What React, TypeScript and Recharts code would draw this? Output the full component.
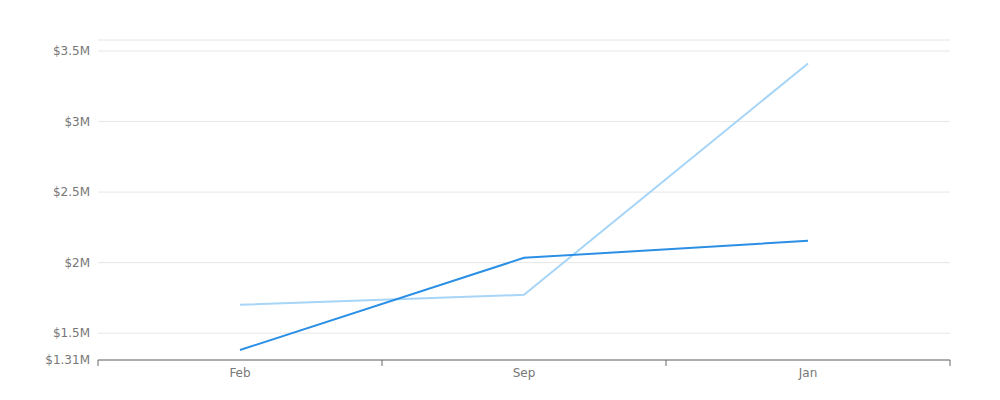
import { LineChart, Line, XAxis, YAxis, CartesianGrid } from 'recharts';

const categories = ['Feb', 'Sep', 'Jan'];
const seriesDark = [1381000, 2034000, 2155000];
const seriesLight = [1701000, 1772000, 3412000];
const yTicks = [1310000, 1500000, 2000000, 2500000, 3000000, 3500000, 3578000];
const yMin = 1310000;
const yMax = 3578000;

const data = categories.map((name, i) => ({
    x: i + 0.5,
    name,
    dark: seriesDark[i],
    light: seriesLight[i]
}));

const xTicks = [0, 0.5, 1, 1.5, 2, 2.5, 3];

function formatMoney(v: number) {
    if (v === yMax) return '';
    return `$${+(v / 1e6).toFixed(2)}M`;
}

function XTick(props: any) {
    const { x, y, payload } = props;
    const v = payload.value;
    if (Number.isInteger(v)) {
        return <line x1={x} x2={x} y1={y - 8} y2={y - 2} stroke="#666" />;
    }
    const label = categories[Math.floor(v)];
    return (
        <text x={x} y={y} dy="0.71em" textAnchor="middle" fill="#777" fontSize={12}>
            {label}
        </text>
    );
}

export default function App() {
    return (
        <div style={{ position: 'absolute', left: 0, top: 0, fontFamily: 'DejaVu Sans' }}>
            <LineChart width={1000} height={400} data={data} margin={{ top: 40, right: 50, bottom: 10, left: 0 }}>
                <CartesianGrid vertical={false} stroke="#e6e6e6" />
                <XAxis
                    dataKey="x"
                    type="number"
                    domain={[0, 3]}
                    ticks={xTicks}
                    interval={0}
                    tickLine={false}
                    stroke="#666"
                    tick={<XTick />}
                />
                <YAxis
                    width={98}
                    domain={[yMin, yMax]}
                    ticks={yTicks}
                    interval={0}
                    axisLine={false}
                    tickLine={false}
                    tickFormatter={formatMoney}
                    tick={{ fill: '#777', fontSize: 12 }}
                />
                <Line dataKey="light" stroke="#a6d5f8" strokeWidth={2} dot={false} isAnimationActive={false} />
                <Line dataKey="dark" stroke="#2b8fe5" strokeWidth={2} dot={false} isAnimationActive={false} />
            </LineChart>
        </div>
    );
}
